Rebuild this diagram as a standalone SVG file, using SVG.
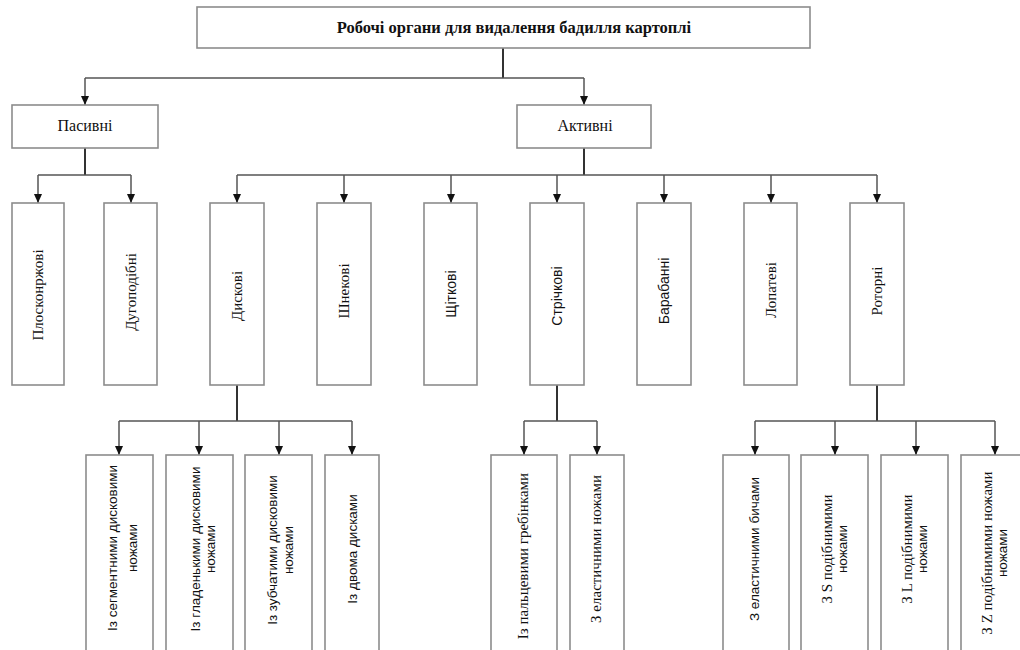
<svg xmlns="http://www.w3.org/2000/svg" width="1020" height="650" viewBox="0 0 1020 650">
<defs>
<marker id="arr" markerUnits="userSpaceOnUse" markerWidth="9" markerHeight="8" refX="9" refY="4" orient="auto" viewBox="0 0 9 8">
<path d="M0,0 L9,4 L0,8 z" fill="#111"/>
</marker>
<style>
.box{fill:#fff;stroke:#8c8c8c;stroke-width:1.6}
.ln{fill:none;stroke:#555;stroke-width:1.5}
.tr{fill:none;stroke:#333;stroke-width:2}
.ar{fill:none;stroke:#555;stroke-width:1.5;marker-end:url(#arr)}
.s{font-family:"Liberation Serif","Times New Roman",serif;fill:#111}
.a{font-family:"Liberation Sans",Arial,sans-serif;fill:#111}
.t{font-size:16.5px;font-weight:bold}
.m{font-size:16px}
.v{font-size:15px}
.vs{font-size:14px}
.l{font-size:13.5px}
.ls{font-size:15px}
</style>
</defs>
<rect width="1020" height="650" fill="#fff"/>

<g id="connectors">
<path class="tr" d="M503,48 V78"/>
<path class="ln" d="M85,78 H584"/>
<path class="ar" d="M85,78 V105"/>
<path class="ar" d="M584,78 V105"/>

<path class="tr" d="M85,148 V175"/>
<path class="ln" d="M38,175 H131"/>
<path class="ar" d="M38,175 V203"/>
<path class="ar" d="M131,175 V203"/>

<path class="tr" d="M584,148 V175"/>
<path class="ln" d="M237,175 H877"/>
<path class="ar" d="M237,175 V203"/>
<path class="ar" d="M344,175 V203"/>
<path class="ar" d="M451,175 V203"/>
<path class="ar" d="M557,175 V203"/>
<path class="ar" d="M664,175 V203"/>
<path class="ar" d="M771,175 V203"/>
<path class="ar" d="M877,175 V203"/>

<path class="tr" d="M237,385 V421"/>
<path class="ln" d="M119,421 H352"/>
<path class="ar" d="M119,421 V455"/>
<path class="ar" d="M199,421 V455"/>
<path class="ar" d="M279,421 V455"/>
<path class="ar" d="M352,421 V455"/>

<path class="tr" d="M557,385 V421"/>
<path class="ln" d="M524,421 H597"/>
<path class="ar" d="M524,421 V455"/>
<path class="ar" d="M597,421 V455"/>

<path class="tr" d="M877,385 V421"/>
<path class="ln" d="M755,421 H995"/>
<path class="ar" d="M755,421 V455"/>
<path class="ar" d="M835,421 V455"/>
<path class="ar" d="M916,421 V455"/>
<path class="ar" d="M995,421 V455"/>
</g>

<g id="root">
<rect class="box" x="197" y="7" width="613" height="41"/>
<text class="s t" x="514" y="33" text-anchor="middle">Робочі органи для видалення бадилля картоплі</text>
</g>

<g id="pasyvni">
<rect class="box" x="12" y="105" width="146" height="43"/>
<text class="s m" x="85" y="131" text-anchor="middle">Пасивні</text>
</g>
<g id="aktyvni">
<rect class="box" x="517" y="105" width="134" height="43"/>
<text class="s m" x="585" y="131" text-anchor="middle">Активні</text>
</g>

<g id="ploskonozhovi">
<rect class="box" x="12" y="203" width="52" height="182"/>
<text class="s v" transform="translate(38,295) rotate(-90)" y="5" text-anchor="middle">Плосконржові</text>
</g>
<g id="duhopodibni">
<rect class="box" x="104" y="203" width="53" height="182"/>
<text class="s v" transform="translate(131,292) rotate(-90)" y="5" text-anchor="middle">Дугоподібні</text>
</g>
<g id="dyskovi">
<rect class="box" x="210" y="203" width="54" height="182"/>
<text class="s v" transform="translate(237,296) rotate(-90)" y="5" text-anchor="middle">Дискові</text>
</g>
<g id="shnekovi">
<rect class="box" x="317" y="203" width="54" height="182"/>
<text class="s v" transform="translate(344,291) rotate(-90)" y="5" text-anchor="middle">Шнекові</text>
</g>
<g id="shchitkovi">
<rect class="box" x="424" y="203" width="53" height="182"/>
<text class="a vs" transform="translate(451,294) rotate(-90)" y="5" text-anchor="middle">Щіткові</text>
</g>
<g id="strichkovi">
<rect class="box" x="530" y="203" width="54" height="182"/>
<text class="a vs" transform="translate(557,296) rotate(-90)" y="5" text-anchor="middle">Стрічкові</text>
</g>
<g id="barabanni">
<rect class="box" x="637" y="203" width="54" height="182"/>
<text class="a vs" transform="translate(664,291) rotate(-90)" y="5" text-anchor="middle">Барабанні</text>
</g>
<g id="lopatevi">
<rect class="box" x="744" y="203" width="53" height="182"/>
<text class="s v" transform="translate(771,290) rotate(-90)" y="5" text-anchor="middle">Лопатеві</text>
</g>
<g id="rotorni">
<rect class="box" x="850" y="203" width="54" height="182"/>
<text class="s v" transform="translate(877,291) rotate(-90)" y="5" text-anchor="middle">Роторні</text>
</g>

<g id="segmentni">
<rect class="box" x="86" y="455" width="67" height="210"/>
<text class="a l" transform="translate(112,548) rotate(-90)" y="4.7" text-anchor="middle">Із сегментними дисковими</text>
<text class="a l" transform="translate(132,548) rotate(-90)" y="4.7" text-anchor="middle">ножами</text>
</g>
<g id="hladenki">
<rect class="box" x="166" y="455" width="67" height="210"/>
<text class="a l" transform="translate(195,549) rotate(-90)" y="4.7" text-anchor="middle">Із гладенькими дисковими</text>
<text class="a l" transform="translate(210,549) rotate(-90)" y="4.7" text-anchor="middle">ножами</text>
</g>
<g id="zubchati">
<rect class="box" x="245" y="455" width="67" height="210"/>
<text class="a l" transform="translate(272,550) rotate(-90)" y="4.7" text-anchor="middle">Із зубчатими дисковими</text>
<text class="a l" transform="translate(288,550) rotate(-90)" y="4.7" text-anchor="middle">ножами</text>
</g>
<g id="dvoma">
<rect class="box" x="325" y="455" width="54" height="210"/>
<text class="a l" transform="translate(352,549) rotate(-90)" y="4.7" text-anchor="middle">Із двома дисками</text>
</g>

<g id="paltsevi">
<rect class="box" x="491" y="455" width="66" height="210"/>
<text class="s v" transform="translate(523,556) rotate(-90)" y="5" text-anchor="middle">Із пальцевими гребінками</text>
</g>
<g id="elastychni-nozhi">
<rect class="box" x="570" y="455" width="54" height="210"/>
<text class="s v" transform="translate(596,549) rotate(-90)" y="5" text-anchor="middle">З еластичними ножами</text>
</g>

<g id="elastychni-bychi">
<rect class="box" x="723" y="455" width="66" height="210"/>
<text class="a l" transform="translate(754,549) rotate(-90)" y="4.7" text-anchor="middle">З еластичними бичами</text>
</g>
<g id="s-podibni">
<rect class="box" x="801" y="455" width="67" height="210"/>
<text class="s ls" transform="translate(827,549) rotate(-90)" y="5" text-anchor="middle">З S подібнимими</text>
<text class="a l" transform="translate(842,549) rotate(-90)" y="4.7" text-anchor="middle">ножами</text>
</g>
<g id="l-podibni">
<rect class="box" x="881" y="455" width="67" height="210"/>
<text class="s ls" transform="translate(907,549) rotate(-90)" y="5" text-anchor="middle">З L подібнимими</text>
<text class="a l" transform="translate(922,549) rotate(-90)" y="4.7" text-anchor="middle">ножами</text>
</g>
<g id="z-podibni">
<rect class="box" x="961" y="455" width="67" height="210"/>
<text class="s ls" transform="translate(987,553) rotate(-90)" y="5" text-anchor="middle">З Z подібнимими ножами</text>
<text class="a l" transform="translate(1002,553) rotate(-90)" y="4.7" text-anchor="middle">ножами</text>
</g>
</svg>
